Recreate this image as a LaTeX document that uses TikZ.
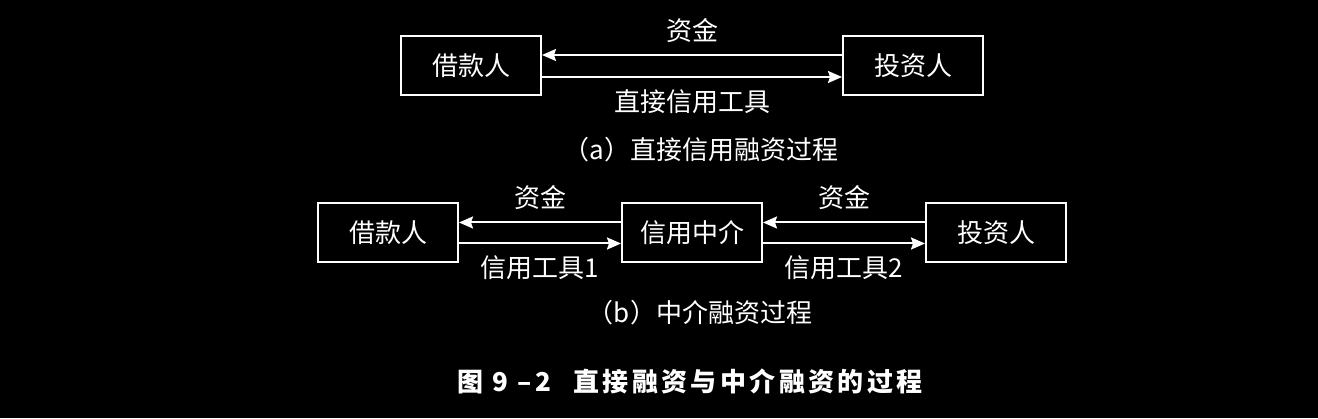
\documentclass[tikz,border=0pt]{standalone}
\usepackage{fontspec}
\setmainfont{Noto Sans CJK SC}
\newfontfamily\titlefont[LetterSpace=13]{Noto Sans CJK SC}
\usetikzlibrary{arrows.meta}

\begin{document}
\begin{tikzpicture}[x=1pt, y=1pt, white, ->, >={Stealth[length=14pt, width=12pt, inset=2pt]}, line width=2pt, node distance=442pt,
  main node/.style={rectangle, draw, minimum width=140pt, minimum height=59pt}]
        \tikzstyle{every node}=[font=\fontsize{26}{30}\selectfont, text=white]
        \path[fill=black, -] (0,0) rectangle (1318,418);

          % (a)
          \node[main node] (jk1) at (471,352) {借款人};
          \node[main node] (tz1) [right of=jk1] {投资人};
          \node (capa) at (701,268) {（a）直接信用融资过程};

          \path
            ([yshift=11pt]tz1.west) edge node [above=8pt] {资金} ([yshift=11pt]jk1.east)
            ([yshift=-11pt]jk1.east) edge node [below=8pt] {直接信用工具} ([yshift=-11pt]tz1.west);

          % (b)
          \begin{scope}[node distance=304pt]
          \node[main node] (jk2) at (388,185) {借款人};
          \node[main node] (zj2) [right of=jk2] {信用中介};
          \node[main node] (tz2) [right of=zj2] {投资人};
          \end{scope}
          \node (capb) at (700,105) {（b）中介融资过程};

          \path
            ([yshift=10.5pt]zj2.west) edge node [above=9pt] {资金} ([yshift=10.5pt]jk2.east)
            ([yshift=-10.5pt]jk2.east) edge node [below=8pt] {信用工具1} ([yshift=-10.5pt]zj2.west)
            ([yshift=10.5pt]tz2.west) edge node [above=9pt] {资金} ([yshift=10.5pt]zj2.east)
            ([yshift=-10.5pt]zj2.east) edge node [below=8pt] {信用工具2} ([yshift=-10.5pt]tz2.west);

          \node (title) at (690,37) {\titlefont\bfseries 图 9 –2\hspace{22pt}直接融资与中介融资的过程};

        \end{tikzpicture}
\end{document}
